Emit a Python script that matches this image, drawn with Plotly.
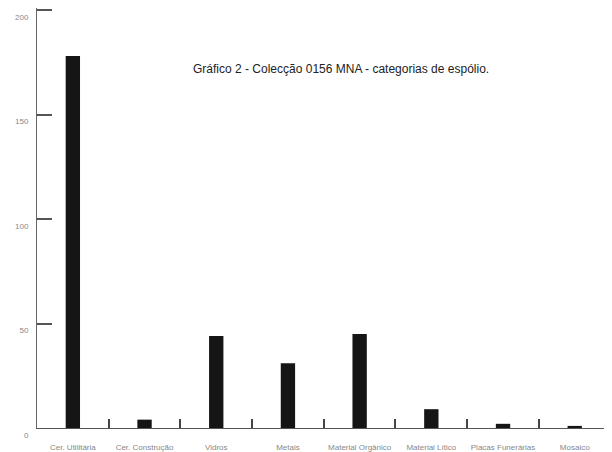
import plotly.graph_objects as go

categories = ["Cer. Utilitária", "Cer. Construção", "Vidros", "Metais",
              "Material Orgânico", "Material Lítico", "Placas Funerárias", "Mosaico"]
values = [178, 4, 44, 31, 45, 9, 2, 1]
y_ticks = [0, 50, 100, 150, 200]
title_text = "Gráfico 2 - Colecção 0156 MNA - categorias de espólio."

fig = go.Figure()
fig.add_trace(go.Bar(x=categories, y=values, marker=dict(color="#151515", line=dict(width=0)),
                     width=0.2, cliponaxis=False))

# the page body adds an 8px offset, so the figure is 8px smaller in both directions
fig.update_layout(
    width=604, height=444,
    margin=dict(l=29, r=0, t=0, b=24),
    paper_bgcolor="white", plot_bgcolor="white",
    showlegend=False,
    font=dict(family="Liberation Sans, Arial, sans-serif", size=8, color="#888888"),
    annotations=[dict(text=title_text, xref="paper", yref="paper", x=0.528, y=0.855,
                      xanchor="center", yanchor="middle", showarrow=False,
                      font=dict(family="Liberation Sans, Arial, sans-serif", size=12, color="#222222"))],
)
fig.update_xaxes(
    type="category", showline=True, linecolor="#555555", linewidth=1,
    ticks="inside", ticklen=9, tickcolor="#444444", tickwidth=1.5,
    tickson="boundaries", showgrid=False, ticklabelstandoff=11, tickangle=0,
    automargin=False,
    tickfont=dict(size=8, color="#888888"), range=[-0.5, 7.52],
)
fig.update_yaxes(
    range=[0, 201], tickvals=y_ticks, showline=True, linecolor="#666666", linewidth=1,
    ticks="inside", ticklen=15, tickcolor="#555555", tickwidth=1.5, automargin=False,
    showgrid=False, zeroline=False, ticklabelshift=7, ticklabelstandoff=6,
    tickfont=dict(size=8, color="#888888"),
)

fig.write_html("out.html")
